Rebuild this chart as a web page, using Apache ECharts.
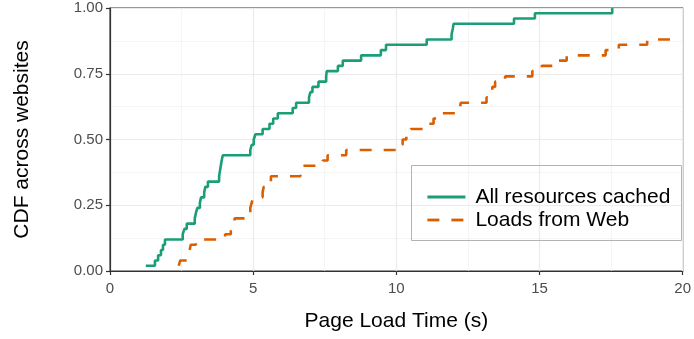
<!DOCTYPE html>
<html>
<head>
<meta charset="utf-8">
<script src="https://cdn.jsdelivr.net/npm/echarts@6/dist/echarts.min.js"></script>
<style>
  html, body { margin: 0; padding: 0; background: #fff; }
  #chart { width: 694px; height: 339px; }
</style>
</head>
<body>
<div id="chart"></div>
<script>
// page load times (s) at which the CDF steps up, and the CDF value after the step
const cachedTime = [1.25, 1.57, 1.68, 1.78, 1.85, 1.92, 2.54, 2.6, 2.68, 2.96, 3.0, 3.05, 3.14, 3.18, 3.29, 3.33, 3.42,
  3.81, 3.84, 3.87, 3.9, 3.94, 4.9, 4.95, 5.02, 5.08, 5.33, 5.57, 5.7, 5.86, 6.38, 6.5, 6.95, 7.0, 7.07, 7.28,
  7.55, 7.57, 7.96, 8.13, 8.77, 9.46, 9.64, 11.06, 11.93, 11.97, 12.0, 14.11, 14.84, 17.54]
const cachedCdf = [0.02, 0.04, 0.06, 0.08, 0.10, 0.12, 0.14, 0.16, 0.18, 0.20, 0.22, 0.24, 0.26, 0.28, 0.30, 0.32, 0.34,
  0.36, 0.38, 0.40, 0.42, 0.44, 0.46, 0.48, 0.50, 0.52, 0.54, 0.56, 0.58, 0.60, 0.62, 0.64, 0.66, 0.68, 0.70, 0.72,
  0.74, 0.76, 0.78, 0.80, 0.82, 0.84, 0.86, 0.88, 0.90, 0.92, 0.94, 0.96, 0.98, 1.00]

const webTime = [2.4, 2.45, 2.72, 2.78, 2.82, 3.0, 4.02, 4.22, 4.28, 4.35, 4.72, 4.9, 4.95, 5.0, 5.33, 5.37, 5.55, 5.62,
  6.65, 6.72, 7.43, 7.6, 8.25, 10.1, 10.22, 10.35, 10.5, 11.15, 11.3, 11.5, 12.22, 12.25, 13.15, 13.22, 13.35, 13.45,
  13.8, 14.75, 15.08, 15.65, 15.95, 17.31, 17.77, 18.76, 19.65]
const webCdf = [0.02, 0.04, 0.06, 0.08, 0.10, 0.12, 0.14, 0.16, 0.18, 0.20, 0.22, 0.24, 0.26, 0.28, 0.30, 0.32, 0.34, 0.36,
  0.38, 0.40, 0.42, 0.44, 0.46, 0.48, 0.50, 0.52, 0.54, 0.56, 0.58, 0.60, 0.62, 0.64, 0.66, 0.68, 0.70, 0.72,
  0.74, 0.76, 0.78, 0.80, 0.82, 0.84, 0.86, 0.88, 0.88]

const seriesNames = ['All resources cached', 'Loads from Web']
const xTicks = [0, 5, 10, 15, 20]
const yTicks = [0, 0.25, 0.5, 0.75, 1]

const FONT = 'Liberation Sans'
const zip = (xs, ys) => xs.map((x, i) => [x, ys[i]])

const chart = echarts.init(document.getElementById('chart'), null, { renderer: 'canvas' })

chart.setOption({
  animation: false,
  textStyle: { fontFamily: FONT },
  grid: {
    left: 110, right: 10, top: 8, bottom: 68,
    show: true, borderColor: '#333333', borderWidth: 1.2, backgroundColor: '#fff'
  },
  xAxis: {
    type: 'value',
    min: xTicks[0], max: xTicks[xTicks.length - 1], interval: 5,
    name: 'Page Load Time (s)',
    nameLocation: 'middle',
    nameGap: 50,
    nameMoveOverlap: false,
    nameTextStyle: { fontSize: 21, color: '#000', fontFamily: FONT, verticalAlign: 'middle' },
    axisLine: { show: true, onZero: false, lineStyle: { color: '#333333', width: 1.2 } },
    axisTick: { show: true, length: 4, lineStyle: { color: '#333333', width: 1.2 } },
    axisLabel: { fontSize: 15, color: '#4d4d4d', margin: 10, fontFamily: FONT },
    splitLine: { show: true, lineStyle: { color: '#ebebeb', width: 1.2 } },
    minorTick: { show: false, splitNumber: 2 },
    minorSplitLine: { show: true, lineStyle: { color: '#f2f2f2', width: 0.8 } }
  },
  yAxis: {
    type: 'value',
    min: yTicks[0], max: yTicks[yTicks.length - 1], interval: 0.25,
    name: 'CDF across websites',
    nameLocation: 'middle',
    nameGap: 77,
    nameTextStyle: { fontSize: 21, color: '#000', fontFamily: FONT },
    axisLine: { show: true, lineStyle: { color: '#333333', width: 1.2 } },
    axisTick: { show: true, length: 4, lineStyle: { color: '#333333', width: 1.2 } },
    axisLabel: { fontSize: 15, color: '#4d4d4d', margin: 7, fontFamily: FONT, formatter: v => v.toFixed(2) },
    splitLine: { show: true, lineStyle: { color: '#ebebeb', width: 1.2 } },
    minorTick: { show: false, splitNumber: 2 },
    minorSplitLine: { show: true, lineStyle: { color: '#f2f2f2', width: 0.8 } }
  },
  legend: {
    data: seriesNames,
    orient: 'vertical',
    left: 426, top: 186,
    padding: 0,
    itemWidth: 38, itemHeight: 14, itemGap: 1,
    itemStyle: { opacity: 0 },
    lineStyle: { width: 2.8 },
    textStyle: { fontSize: 21, color: '#000', fontFamily: FONT, lineHeight: 22, padding: [0, 0, 0, 5] }
  },
  graphic: [{
    type: 'rect',
    shape: { x: 411.5, y: 165.5, width: 270, height: 75 },
    style: { fill: 'none', stroke: '#b3b3b3', lineWidth: 1 },
    z: 10
  }],
  series: [
    {
      name: seriesNames[0],
      type: 'line',
      step: 'end',
      showSymbol: false,
      symbol: 'none',
      color: '#1b9e77',
      lineStyle: { width: 2.6, color: '#1b9e77' },
      data: zip(cachedTime, cachedCdf)
    },
    {
      name: seriesNames[1],
      type: 'line',
      step: 'end',
      showSymbol: false,
      symbol: 'none',
      color: '#d95f02',
      lineStyle: { width: 2.6, color: '#d95f02', type: [12, 12] },
      data: zip(webTime, webCdf)
    }
  ]
})
</script>
</body>
</html>
